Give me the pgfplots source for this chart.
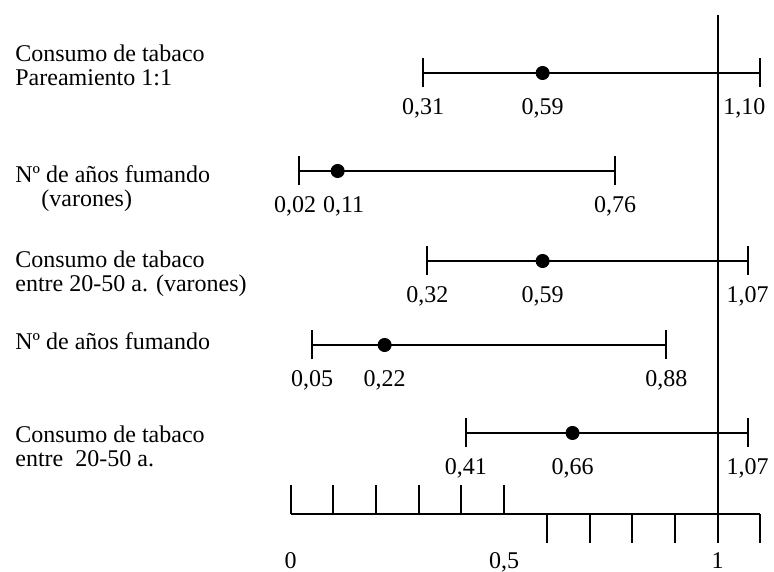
\documentclass[border=0pt]{standalone}
\usepackage{fontspec}
\setmainfont{Liberation Serif}
\usepackage{pgfplots}
\usepackage{pgfplotstable}
\pgfplotsset{compat=1.18}

% odds ratio, IC 95%; y = posicion de la fila; s* = desplazamiento de la etiqueta (pt)
\pgfplotstableread{
y   lo   est  hi   llo    lest   lhi    slo sest shi
441 0.31 0.59 1.10 {0,31} {0,59} {1,10} 0   0    -8
343 0.02 0.11 0.76 {0,02} {0,11} {0,76} -2  3    0
253 0.32 0.59 1.07 {0,32} {0,59} {1,07} 0   0    0
169 0.05 0.22 0.88 {0,05} {0,22} {0,88} 0   0    0
81  0.41 0.66 1.07 {0,41} {0,66} {1,07} 0   0    0
}\ortable

\pgfplotsset{
    etiq/.style={draw=none, no markers, nodes near coords,
        point meta=explicit symbolic,
        visualization depends on={\thisrow{#1} \as \sh},
        every node near coord/.append style={anchor=base, yshift=-21pt,
            xshift=\sh pt, inner sep=0pt, black}},
}

\begin{document}
\fontsize{12}{12.25}\selectfont
\begin{tikzpicture}
\begin{axis}[
    name=ax,
    x=213.5pt, y=0.5pt,
    xmin=-0.6808, xmax=1.1319,
    ymin=-58, ymax=514,
    axis line style={draw=none},
    tick style={draw=none},
    major tick length=0pt,
    clip=false,
    xtick={0,0.5,1},
    xticklabels={0,{0,5},1},
    xticklabel style={anchor=base, yshift=1.5pt, inner sep=0pt},
    % base de la ultima linea de cada rotulo
    ytick={428,307,222,164,47},
    yticklabels={
        {Consumo de tabaco\\Pareamiento 1:1},
        {Nº de años fumando\\\hspace*{13pt}(varones)},
        {Consumo de tabaco\\entre 20-50 a. (varones)},
        {Nº de años fumando},
        {Consumo de tabaco\\entre\ \ 20-50 a.}},
    yticklabel style={anchor=base west, align=left, inner sep=0pt, xshift=7.5pt},
]
    % escala
    \addplot[black, line width=1pt, no markers] coordinates {(0,0) (1.1,0)};
    \addplot[black, line width=1pt, no markers, ycomb] coordinates {
        (0,29) (0.1,29) (0.2,29) (0.3,29) (0.4,29) (0.5,29)};
    \addplot[black, line width=1pt, no markers, ycomb] coordinates {
        (0.6,-29) (0.7,-29) (0.8,-29) (0.9,-29) (1.0,-29) (1.1,-29)};
    \addplot[black, line width=1pt, no markers] coordinates {(1,499) (1,-29)};

    % intervalos y estimaciones
    \addplot[black, only marks, mark=*, mark size=3.3pt,
        error bars/.cd, x dir=both, x explicit,
        error mark=|, error mark options={black, mark size=7.25pt, line width=1pt},
        error bar style={black, line width=1pt}]
        table[x=est, y=y,
              x error plus expr=\thisrow{hi}-\thisrow{est},
              x error minus expr=\thisrow{est}-\thisrow{lo}] {\ortable};

    % etiquetas numericas
    \addplot[etiq=slo]  table[x=lo,  y=y, meta=llo]  {\ortable};
    \addplot[etiq=sest] table[x=est, y=y, meta=lest] {\ortable};
    \addplot[etiq=shi]  table[x=hi,  y=y, meta=lhi]  {\ortable};
\end{axis}
\pgfresetboundingbox
\path (ax.south west) rectangle (ax.north east);
\end{tikzpicture}
\end{document}
